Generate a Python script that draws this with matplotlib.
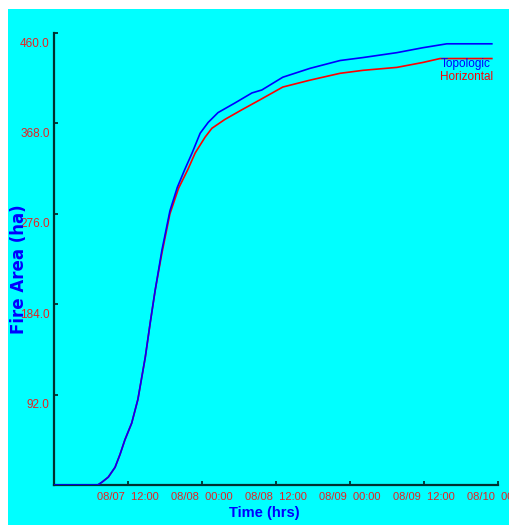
import matplotlib
matplotlib.use('Agg')
import matplotlib.pyplot as plt
from matplotlib.patches import Rectangle
from matplotlib.transforms import ScaledTranslation

# hours since 08/07 00:00
topo_t = [0, 7.1, 7.8, 8.8, 9.9, 10.7, 11.5, 12.6, 13.6, 14.8, 15.6, 16.4, 17.5, 18.8,
          20.0, 21.2, 22.4, 23.7, 25.0, 26.6, 29.4, 32.1, 33.7, 37.1, 41.5, 46.4,
          50.1, 55.6, 59.8, 63.7, 71.0]
topo_v = [0, 0, 3, 8, 18, 31, 46, 63, 87, 130, 165, 198, 239, 279,
          303, 321, 338, 358, 369, 379, 389, 399, 402, 415, 424, 432,
          435, 440, 445, 449, 449]

horiz_t = [0, 7.1, 7.8, 8.8, 9.9, 10.7, 11.5, 12.6, 13.6, 14.8, 15.6, 16.4, 17.5, 18.8,
           20.2, 21.7, 22.9, 24.5, 25.6, 27.7, 30.5, 33.4, 37.1, 41.5, 46.4,
           50.1, 55.6, 59.8, 62.6, 71.0]
horiz_v = [0, 0, 3, 8, 18, 31, 46, 63, 87, 130, 165, 198, 236, 276,
           302, 321, 338, 354, 363, 372, 382, 392, 405, 412, 419,
           422, 425, 430, 434, 434]

xticks = [12, 24, 36, 48, 60, 72]
xlabels = ['08/07  12:00', '08/08  00:00', '08/08  12:00',
           '08/09  00:00', '08/09  12:00', '08/10  00:00']
yticks = [92, 184, 276, 368, 460]
ylabels = ['92.0', '184.0', '276.0', '368.0', '460.0']

W, H = 510, 525
fig = plt.figure(figsize=(W / 100, H / 100), dpi=100, facecolor='white')
fig.patches.append(Rectangle((8 / W, 0), 1, 1 - 9 / H, transform=fig.transFigure,
                             facecolor='#00ffff', edgecolor='none', zorder=-10))

ax = fig.add_axes([54 / W, 40 / H, 444 / W, 452 / H])
ax.set_facecolor('none')
ax.plot(topo_t, topo_v, color='#0000ff', lw=1.2, label='Topologic', zorder=3)
ax.plot(horiz_t, horiz_v, color='#ff0000', lw=1.2, label='Horizontal', zorder=2)

ax.set_xlim(0, 72)
ax.set_ylim(0, 460)
for s in ['top', 'right']:
    ax.spines[s].set_visible(False)
for s in ['left', 'bottom']:
    ax.spines[s].set_color('#003030')
    ax.spines[s].set_linewidth(1.6)

ax.set_xticks(xticks)
ax.set_xticklabels(xlabels)
ax.set_yticks(yticks)
ax.set_yticklabels(ylabels)
ax.tick_params(direction='in', length=3, width=1.2, color='#002020',
               labelcolor='#e82020', labelsize=8.5)
ax.tick_params(axis='x', pad=5, labelsize=8)
ax.tick_params(axis='y', pad=3)
for lab in ax.get_xticklabels() + ax.get_yticklabels():
    lab.set_family('Liberation Sans')
for t in ax.yaxis.get_major_ticks():
    t.label1.set_transform(t.label1.get_transform() +
                           ScaledTranslation(0, -9 / 100, fig.dpi_scale_trans))

ax.set_xlabel('Time (hrs)', color='#0000ff', fontsize=10.5, fontweight='bold',
              family='Liberation Sans')
ax.xaxis.set_label_coords((264 - 54) / 444, (485 - 506) / 452)
ax.set_ylabel('Fire Area (ha)', color='#0000ff', fontsize=12, fontweight='bold',
              family='DejaVu Sans')
ax.yaxis.set_label_coords((28 - 54) / 444, (485 - 269) / 452)

leg = ax.legend(loc='upper right', bbox_to_anchor=(0.99, 0.944), frameon=False,
                handlelength=0, handletextpad=0, labelspacing=0.05, borderpad=0,
                borderaxespad=0, labelcolor='linecolor',
                prop={'family': 'Liberation Sans', 'size': 8.5})
for h in leg.legend_handles:
    h.set_visible(False)

fig.savefig('out.png', dpi=100, facecolor='white')
